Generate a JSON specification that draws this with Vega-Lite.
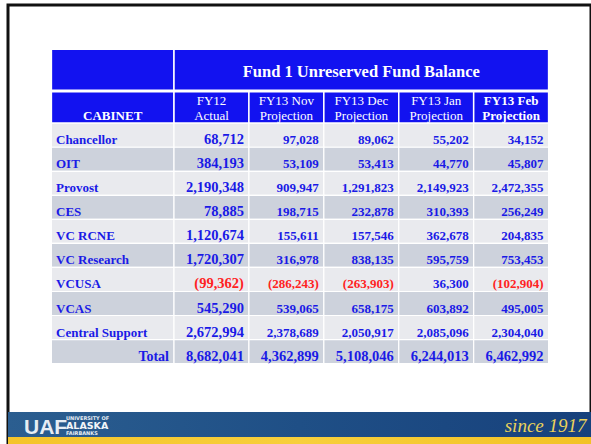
{
  "$schema": "https://vega.github.io/schema/vega-lite/v6.json",
  "width": 583,
  "height": 439,
  "autosize": "none",
  "padding": {"left": 8, "top": 5, "right": 0, "bottom": 0},
  "background": "white",
  "config": {
    "view": {"stroke": "#111111", "strokeWidth": 3},
    "text": {"font": "Liberation Serif"}
  },
  "datasets": {
    "cells": [
      {"cabinet": "Chancellor", "fy12": 68712, "nov": 97028, "dec": 89062, "jan": 55202, "feb": 34152},
      {"cabinet": "OIT", "fy12": 384193, "nov": 53109, "dec": 53413, "jan": 44770, "feb": 45807},
      {"cabinet": "Provost", "fy12": 2190348, "nov": 909947, "dec": 1291823, "jan": 2149923, "feb": 2472355},
      {"cabinet": "CES", "fy12": 78885, "nov": 198715, "dec": 232878, "jan": 310393, "feb": 256249},
      {"cabinet": "VC RCNE", "fy12": 1120674, "nov": 155611, "dec": 157546, "jan": 362678, "feb": 204835},
      {"cabinet": "VC Research", "fy12": 1720307, "nov": 316978, "dec": 838135, "jan": 595759, "feb": 753453},
      {"cabinet": "VCUSA", "fy12": -99362, "nov": -286243, "dec": -263903, "jan": 36300, "feb": -102904},
      {"cabinet": "VCAS", "fy12": 545290, "nov": 539065, "dec": 658175, "jan": 603892, "feb": 495005},
      {"cabinet": "Central Support", "fy12": 2672994, "nov": 2378689, "dec": 2050917, "jan": 2085096, "feb": 2304040},
      {"cabinet": "Total", "fy12": 8682041, "nov": 4362899, "dec": 5108046, "jan": 6244013, "feb": 6462992}
    ],
    "periods": [
      {"period": "fy12", "header": "FY12\nActual"},
      {"period": "nov", "header": "FY13 Nov\nProjection"},
      {"period": "dec", "header": "FY13 Dec\nProjection"},
      {"period": "jan", "header": "FY13 Jan\nProjection"},
      {"period": "feb", "header": "FY13 Feb\nProjection"}
    ],
    "headers": [
      {"cell": "title", "label": "Fund 1 Unreserved Fund Balance"},
      {"cell": "cabinet", "label": "CABINET"}
    ],
    "footer": [
      {"part": "UAF", "label": "UAF"},
      {"part": "top", "label": "UNIVERSITY OF"},
      {"part": "name", "label": "ALASKA"},
      {"part": "bottom", "label": "FAIRBANKS"},
      {"part": "motto", "label": "since 1917"}
    ]
  },
  "layer": [
    {
      "data": {"name": "footer"},
      "transform": [{"filter": "datum.part === 'motto'"}],
      "mark": {"type": "rect", "fill": {"gradient": "linear", "x1": 0, "x2": 1, "y1": 0, "y2": 0, "stops": [{"offset": 0, "color": "#2b5e90"}, {"offset": 0.5, "color": "#1f4f86"}, {"offset": 1, "color": "#17417c"}]}},
      "encoding": {
        "x": {"datum": "footer", "type": "nominal", "scale": {"type": "band", "domain": ["footer"], "range": [0, 583], "padding": 0}, "axis": null},
        "y": {"datum": "band", "type": "nominal", "scale": {"type": "band", "domain": ["band"], "range": [407, 432], "padding": 0}, "axis": null}
      }
    },
    {
      "data": {"name": "footer"},
      "transform": [{"filter": "datum.part === 'motto'"}],
      "mark": {"type": "rect", "fill": {"gradient": "linear", "x1": 0, "x2": 1, "y1": 0, "y2": 0, "stops": [{"offset": 0, "color": "#f4c42a"}, {"offset": 0.5, "color": "#f7cf3c"}, {"offset": 1, "color": "#f2c226"}]}},
      "encoding": {
        "x": {"datum": "footer", "type": "nominal", "scale": {"type": "band", "domain": ["footer"], "range": [0, 583], "padding": 0}, "axis": null},
        "y": {"datum": "stripe", "type": "nominal", "scale": {"type": "band", "domain": ["stripe"], "range": [432, 439], "padding": 0}, "axis": null}
      }
    },
    {
      "data": {"name": "footer"},
      "transform": [{"filter": "datum.part === 'UAF'"}],
      "mark": {"type": "text", "font": "Liberation Sans", "fontWeight": "bold", "fontSize": 21, "fill": "#e6edf4", "align": "left", "baseline": "alphabetic", "dx": 16, "dy": 22},
      "encoding": {
        "x": {"datum": "footer", "type": "nominal", "bandPosition": 0, "scale": {"type": "band", "domain": ["footer"], "range": [0, 583], "padding": 0}, "axis": null},
        "y": {"datum": "band", "type": "nominal", "bandPosition": 0, "scale": {"type": "band", "domain": ["band"], "range": [407, 432], "padding": 0}, "axis": null},
        "text": {"field": "label", "type": "nominal"}
      }
    },
    {
      "data": {"name": "footer"},
      "transform": [{"filter": "datum.part === 'top' || datum.part === 'bottom'"}],
      "mark": {"type": "text", "font": "DejaVu Sans", "fontWeight": "bold", "fontSize": 5, "fill": "#e6edf4", "align": "left", "baseline": "alphabetic", "dx": 58},
      "encoding": {
        "x": {"datum": "footer", "type": "nominal", "bandPosition": 0, "scale": {"type": "band", "domain": ["footer"], "range": [0, 583], "padding": 0}, "axis": null},
        "y": {"field": "part", "type": "nominal", "scale": {"type": "point", "domain": ["top", "bottom"], "range": [414.5, 430], "padding": 0}, "axis": null},
        "text": {"field": "label", "type": "nominal"}
      }
    },
    {
      "data": {"name": "footer"},
      "transform": [{"filter": "datum.part === 'name'"}],
      "mark": {"type": "text", "font": "DejaVu Sans", "fontWeight": "bold", "fontSize": 9.5, "fill": "#f2f5f8", "align": "left", "baseline": "alphabetic", "dx": 58, "dy": 16.5},
      "encoding": {
        "x": {"datum": "footer", "type": "nominal", "bandPosition": 0, "scale": {"type": "band", "domain": ["footer"], "range": [0, 583], "padding": 0}, "axis": null},
        "y": {"datum": "band", "type": "nominal", "bandPosition": 0, "scale": {"type": "band", "domain": ["band"], "range": [407, 432], "padding": 0}, "axis": null},
        "text": {"field": "label", "type": "nominal"}
      }
    },
    {
      "data": {"name": "footer"},
      "transform": [{"filter": "datum.part === 'motto'"}],
      "mark": {"type": "text", "font": "Liberation Serif", "fontStyle": "italic", "fontSize": 19, "fill": "#ebd25a", "align": "right", "baseline": "alphabetic", "dx": -4.5, "dy": 20},
      "encoding": {
        "x": {"datum": "footer", "type": "nominal", "bandPosition": 1, "scale": {"type": "band", "domain": ["footer"], "range": [0, 583], "padding": 0}, "axis": null},
        "y": {"datum": "band", "type": "nominal", "bandPosition": 0, "scale": {"type": "band", "domain": ["band"], "range": [407, 432], "padding": 0}, "axis": null},
        "text": {"field": "label", "type": "nominal"}
      }
    },
    {
      "data": {"name": "headers"},
      "transform": [{"filter": "datum.cell === 'cabinet'"}],
      "mark": {"type": "rect", "fill": "#1212f0", "stroke": "white", "strokeWidth": 1.5},
      "encoding": {
        "x": {"datum": "CABINET", "type": "nominal", "scale": {"type": "band", "domain": ["CABINET"], "range": [43.4, 166], "padding": 0}, "axis": null},
        "y": {"datum": "h1", "type": "nominal", "scale": {"type": "band", "domain": ["h1"], "range": [44.25, 85.15], "padding": 0}, "axis": null}
      }
    },
    {
      "data": {"name": "headers"},
      "transform": [{"filter": "datum.cell === 'title'"}],
      "mark": {"type": "rect", "fill": "#1212f0", "stroke": "white", "strokeWidth": 1.5},
      "encoding": {
        "x": {"datum": "title", "type": "nominal", "scale": {"type": "band", "domain": ["title"], "range": [166, 540.6], "padding": 0}, "axis": null},
        "y": {"datum": "h1", "type": "nominal", "scale": {"type": "band", "domain": ["h1"], "range": [44.25, 85.15], "padding": 0}, "axis": null}
      }
    },
    {
      "data": {"name": "headers"},
      "transform": [{"filter": "datum.cell === 'title'"}],
      "mark": {"type": "text", "fontWeight": "bold", "fontSize": 16.5, "fill": "white", "align": "center", "baseline": "alphabetic", "dy": 28},
      "encoding": {
        "x": {"datum": "title", "type": "nominal", "scale": {"type": "band", "domain": ["title"], "range": [166, 540.6], "padding": 0}, "axis": null},
        "y": {"datum": "h1", "type": "nominal", "bandPosition": 0, "scale": {"type": "band", "domain": ["h1"], "range": [44.25, 85.15], "padding": 0}, "axis": null},
        "text": {"field": "label", "type": "nominal"}
      }
    },
    {
      "data": {"name": "headers"},
      "transform": [{"filter": "datum.cell === 'cabinet'"}],
      "mark": {"type": "rect", "fill": "#1212f0", "stroke": "white", "strokeWidth": 1.5},
      "encoding": {
        "x": {"datum": "CABINET", "type": "nominal", "scale": {"type": "band", "domain": ["CABINET"], "range": [43.4, 166], "padding": 0}, "axis": null},
        "y": {"datum": "h2", "type": "nominal", "scale": {"type": "band", "domain": ["h2"], "range": [86.85, 118.2], "padding": 0}, "axis": null}
      }
    },
    {
      "data": {"name": "headers"},
      "transform": [{"filter": "datum.cell === 'cabinet'"}],
      "mark": {"type": "text", "fontWeight": "bold", "fontSize": 13, "fill": "white", "align": "center", "baseline": "alphabetic", "dy": 28.15},
      "encoding": {
        "x": {"datum": "CABINET", "type": "nominal", "scale": {"type": "band", "domain": ["CABINET"], "range": [43.4, 166], "padding": 0}, "axis": null},
        "y": {"datum": "h2", "type": "nominal", "bandPosition": 0, "scale": {"type": "band", "domain": ["h2"], "range": [86.85, 118.2], "padding": 0}, "axis": null},
        "text": {"field": "label", "type": "nominal"}
      }
    },
    {
      "data": {"name": "periods"},
      "mark": {"type": "rect", "fill": "#1212f0", "stroke": "white", "strokeWidth": 1.5},
      "encoding": {
        "x": {"field": "period", "type": "nominal", "scale": {"type": "band", "domain": ["fy12", "nov", "dec", "jan", "feb"], "range": [166, 540.6], "padding": 0}, "axis": null},
        "y": {"datum": "h2", "type": "nominal", "scale": {"type": "band", "domain": ["h2"], "range": [86.85, 118.2], "padding": 0}, "axis": null}
      }
    },
    {
      "data": {"name": "periods"},
      "transform": [{"filter": "datum.period !== 'feb'"}],
      "mark": {"type": "text", "fontSize": 13, "fill": "white", "align": "center", "baseline": "alphabetic", "lineBreak": "\n", "lineHeight": 15, "dy": 13.15},
      "encoding": {
        "x": {"field": "period", "type": "nominal", "scale": {"type": "band", "domain": ["fy12", "nov", "dec", "jan", "feb"], "range": [166, 540.6], "padding": 0}, "axis": null},
        "y": {"datum": "h2", "type": "nominal", "bandPosition": 0, "scale": {"type": "band", "domain": ["h2"], "range": [86.85, 118.2], "padding": 0}, "axis": null},
        "text": {"field": "header", "type": "nominal"}
      }
    },
    {
      "data": {"name": "periods"},
      "transform": [{"filter": "datum.period === 'feb'"}],
      "mark": {"type": "text", "fontSize": 13, "fontWeight": "bold", "fill": "white", "align": "center", "baseline": "alphabetic", "lineBreak": "\n", "lineHeight": 15, "dy": 13.15},
      "encoding": {
        "x": {"field": "period", "type": "nominal", "scale": {"type": "band", "domain": ["fy12", "nov", "dec", "jan", "feb"], "range": [166, 540.6], "padding": 0}, "axis": null},
        "y": {"datum": "h2", "type": "nominal", "bandPosition": 0, "scale": {"type": "band", "domain": ["h2"], "range": [86.85, 118.2], "padding": 0}, "axis": null},
        "text": {"field": "header", "type": "nominal"}
      }
    },
    {
      "data": {"name": "cells"},
      "mark": {"type": "rect", "stroke": "white", "strokeWidth": 1.2},
      "encoding": {
        "x": {"datum": "CABINET", "type": "nominal", "scale": {"type": "band", "domain": ["CABINET"], "range": [43.4, 166], "padding": 0}, "axis": null},
        "y": {"field": "cabinet", "type": "nominal", "scale": {"type": "band", "domain": ["Chancellor", "OIT", "Provost", "CES", "VC RCNE", "VC Research", "VCUSA", "VCAS", "Central Support", "Total"], "range": [118.2, 358.6], "padding": 0}, "axis": null},
        "fill": {"field": "cabinet", "type": "nominal", "scale": {"domain": ["Chancellor", "OIT", "Provost", "CES", "VC RCNE", "VC Research", "VCUSA", "VCAS", "Central Support", "Total"], "range": ["#e9eaee", "#cdd2dc", "#e9eaee", "#cdd2dc", "#e9eaee", "#cdd2dc", "#e9eaee", "#cdd2dc", "#e9eaee", "#cdd2dc"]}, "legend": null}
      }
    },
    {
      "data": {"name": "cells"},
      "transform": [{"fold": ["fy12", "nov", "dec", "jan", "feb"], "as": ["period", "value"]}],
      "mark": {"type": "rect", "stroke": "white", "strokeWidth": 1.2},
      "encoding": {
        "x": {"field": "period", "type": "nominal", "scale": {"type": "band", "domain": ["fy12", "nov", "dec", "jan", "feb"], "range": [166, 540.6], "padding": 0}, "axis": null},
        "y": {"field": "cabinet", "type": "nominal", "scale": {"type": "band", "domain": ["Chancellor", "OIT", "Provost", "CES", "VC RCNE", "VC Research", "VCUSA", "VCAS", "Central Support", "Total"], "range": [118.2, 358.6], "padding": 0}, "axis": null},
        "fill": {"field": "cabinet", "type": "nominal", "scale": {"domain": ["Chancellor", "OIT", "Provost", "CES", "VC RCNE", "VC Research", "VCUSA", "VCAS", "Central Support", "Total"], "range": ["#e9eaee", "#cdd2dc", "#e9eaee", "#cdd2dc", "#e9eaee", "#cdd2dc", "#e9eaee", "#cdd2dc", "#e9eaee", "#cdd2dc"]}, "legend": null}
      }
    },
    {
      "data": {"name": "cells"},
      "transform": [{"filter": "datum.cabinet !== 'Total'"}],
      "mark": {"type": "text", "fontWeight": "bold", "fontSize": 13, "fill": "#1a1ae6", "align": "left", "baseline": "alphabetic", "dx": 4.6, "dy": -3},
      "encoding": {
        "x": {"datum": "CABINET", "type": "nominal", "bandPosition": 0, "scale": {"type": "band", "domain": ["CABINET"], "range": [43.4, 166], "padding": 0}, "axis": null},
        "y": {"field": "cabinet", "type": "nominal", "bandPosition": 1, "scale": {"type": "band", "domain": ["Chancellor", "OIT", "Provost", "CES", "VC RCNE", "VC Research", "VCUSA", "VCAS", "Central Support", "Total"], "range": [118.2, 358.6], "padding": 0}, "axis": null},
        "text": {"field": "cabinet", "type": "nominal"}
      }
    },
    {
      "data": {"name": "cells"},
      "transform": [{"filter": "datum.cabinet === 'Total'"}],
      "mark": {"type": "text", "fontWeight": "bold", "fontSize": 14, "fill": "#1a1ae6", "align": "right", "baseline": "alphabetic", "dx": -5, "dy": -3},
      "encoding": {
        "x": {"datum": "CABINET", "type": "nominal", "bandPosition": 1, "scale": {"type": "band", "domain": ["CABINET"], "range": [43.4, 166], "padding": 0}, "axis": null},
        "y": {"field": "cabinet", "type": "nominal", "bandPosition": 1, "scale": {"type": "band", "domain": ["Chancellor", "OIT", "Provost", "CES", "VC RCNE", "VC Research", "VCUSA", "VCAS", "Central Support", "Total"], "range": [118.2, 358.6], "padding": 0}, "axis": null},
        "text": {"field": "cabinet", "type": "nominal"}
      }
    },
    {
      "data": {"name": "cells"},
      "transform": [{"fold": ["fy12", "nov", "dec", "jan", "feb"], "as": ["period", "value"]}],
      "mark": {"type": "text", "fontWeight": "bold", "align": "right", "baseline": "alphabetic", "dx": -5, "dy": -3},
      "encoding": {
        "x": {"field": "period", "type": "nominal", "bandPosition": 1, "scale": {"type": "band", "domain": ["fy12", "nov", "dec", "jan", "feb"], "range": [166, 540.6], "padding": 0}, "axis": null},
        "y": {"field": "cabinet", "type": "nominal", "bandPosition": 1, "scale": {"type": "band", "domain": ["Chancellor", "OIT", "Provost", "CES", "VC RCNE", "VC Research", "VCUSA", "VCAS", "Central Support", "Total"], "range": [118.2, 358.6], "padding": 0}, "axis": null},
        "text": {"field": "value", "type": "quantitative", "format": "(,.0f"},
        "size": {"condition": {"test": "datum.period === 'fy12' || datum.cabinet === 'Total'", "value": 14.5}, "value": 13},
        "color": {"condition": {"test": "datum.value < 0", "value": "#ff2222"}, "value": "#1a1ae6"}
      }
    }
  ],
  "resolve": {"scale": {"x": "independent", "y": "independent", "fill": "independent", "color": "independent"}}
}
